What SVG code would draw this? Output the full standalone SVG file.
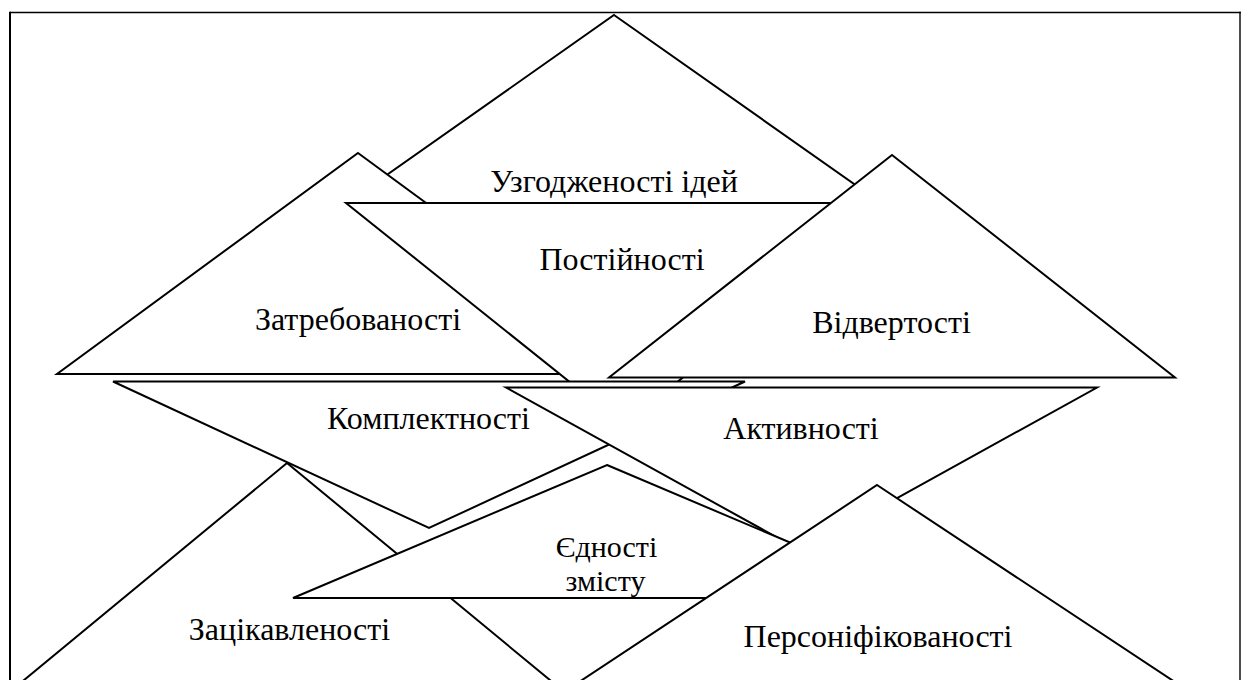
<svg xmlns="http://www.w3.org/2000/svg" width="1241" height="680" viewBox="0 0 1241 680">
  <style>
    .tri { fill: #ffffff; stroke: #000000; stroke-width: 2; stroke-linejoin: miter; }
    .lbl { font-family: "Liberation Serif", "Times New Roman", serif; font-size: 32px; fill: #000000; text-anchor: middle; }
    .sm { font-size: 30px; }
    .frame { stroke: #000000; fill: none; }
  </style>
  <rect x="0" y="0" width="1241" height="680" fill="#ffffff"/>
  <g id="frame">
    <line class="frame" x1="10" y1="12.5" x2="1241" y2="12.5" stroke-width="1.4"/>
    <line class="frame" x1="10" y1="11.8" x2="10" y2="680" stroke-width="2"/>
    <line class="frame" x1="1240" y1="11.8" x2="1240" y2="680" stroke-width="1.4"/>
  </g>
  <g id="connectors"></g>
  <g id="node-uzgodzhenosti">
    <polygon class="tri" points="614,15 891,210 337,210"/>
    <text class="lbl" x="614" y="192">Узгодженості ідей</text>
  </g>
  <g id="node-zatrebovanosti">
    <polygon class="tri" points="358,153 659,374 57,374"/>
    <text class="lbl" x="358" y="330">Затребованості</text>
  </g>
  <g id="node-postiinosti">
    <polygon class="tri" points="346,203 901,203 623.5,425"/>
    <text class="lbl" x="622" y="270">Постійності</text>
  </g>
  <g id="node-vidvertosti">
    <polygon class="tri" points="892,155 1175,377.5 609,377.5"/>
    <text class="lbl" x="891.5" y="333">Відвертості</text>
  </g>
  <g id="node-komplektnosti">
    <polygon class="tri" points="113,381.5 745,381.5 429,528"/>
    <text class="lbl" x="428.5" y="429">Комплектності</text>
  </g>
  <g id="node-aktyvnosti">
    <polygon class="tri" points="506,387.5 1097,387.5 801.5,551"/>
    <text class="lbl" x="801" y="439">Активності</text>
  </g>
  <g id="node-zatsikavlenosti">
    <polygon class="tri" points="287,463 562,690 12,690"/>
    <text class="lbl" x="289.5" y="640">Зацікавленості</text>
  </g>
  <g id="node-yednosti">
    <polygon class="tri" points="607,465 921,598 293,598"/>
    <text class="lbl sm" x="606.5" y="557">Єдності</text>
    <text class="lbl sm" x="605.5" y="591">змісту</text>
  </g>
  <g id="node-personifikovanosti">
    <polygon class="tri" points="877,485 1187,690 567,690"/>
    <text class="lbl" x="878" y="647">Персоніфікованості</text>
  </g>
</svg>
